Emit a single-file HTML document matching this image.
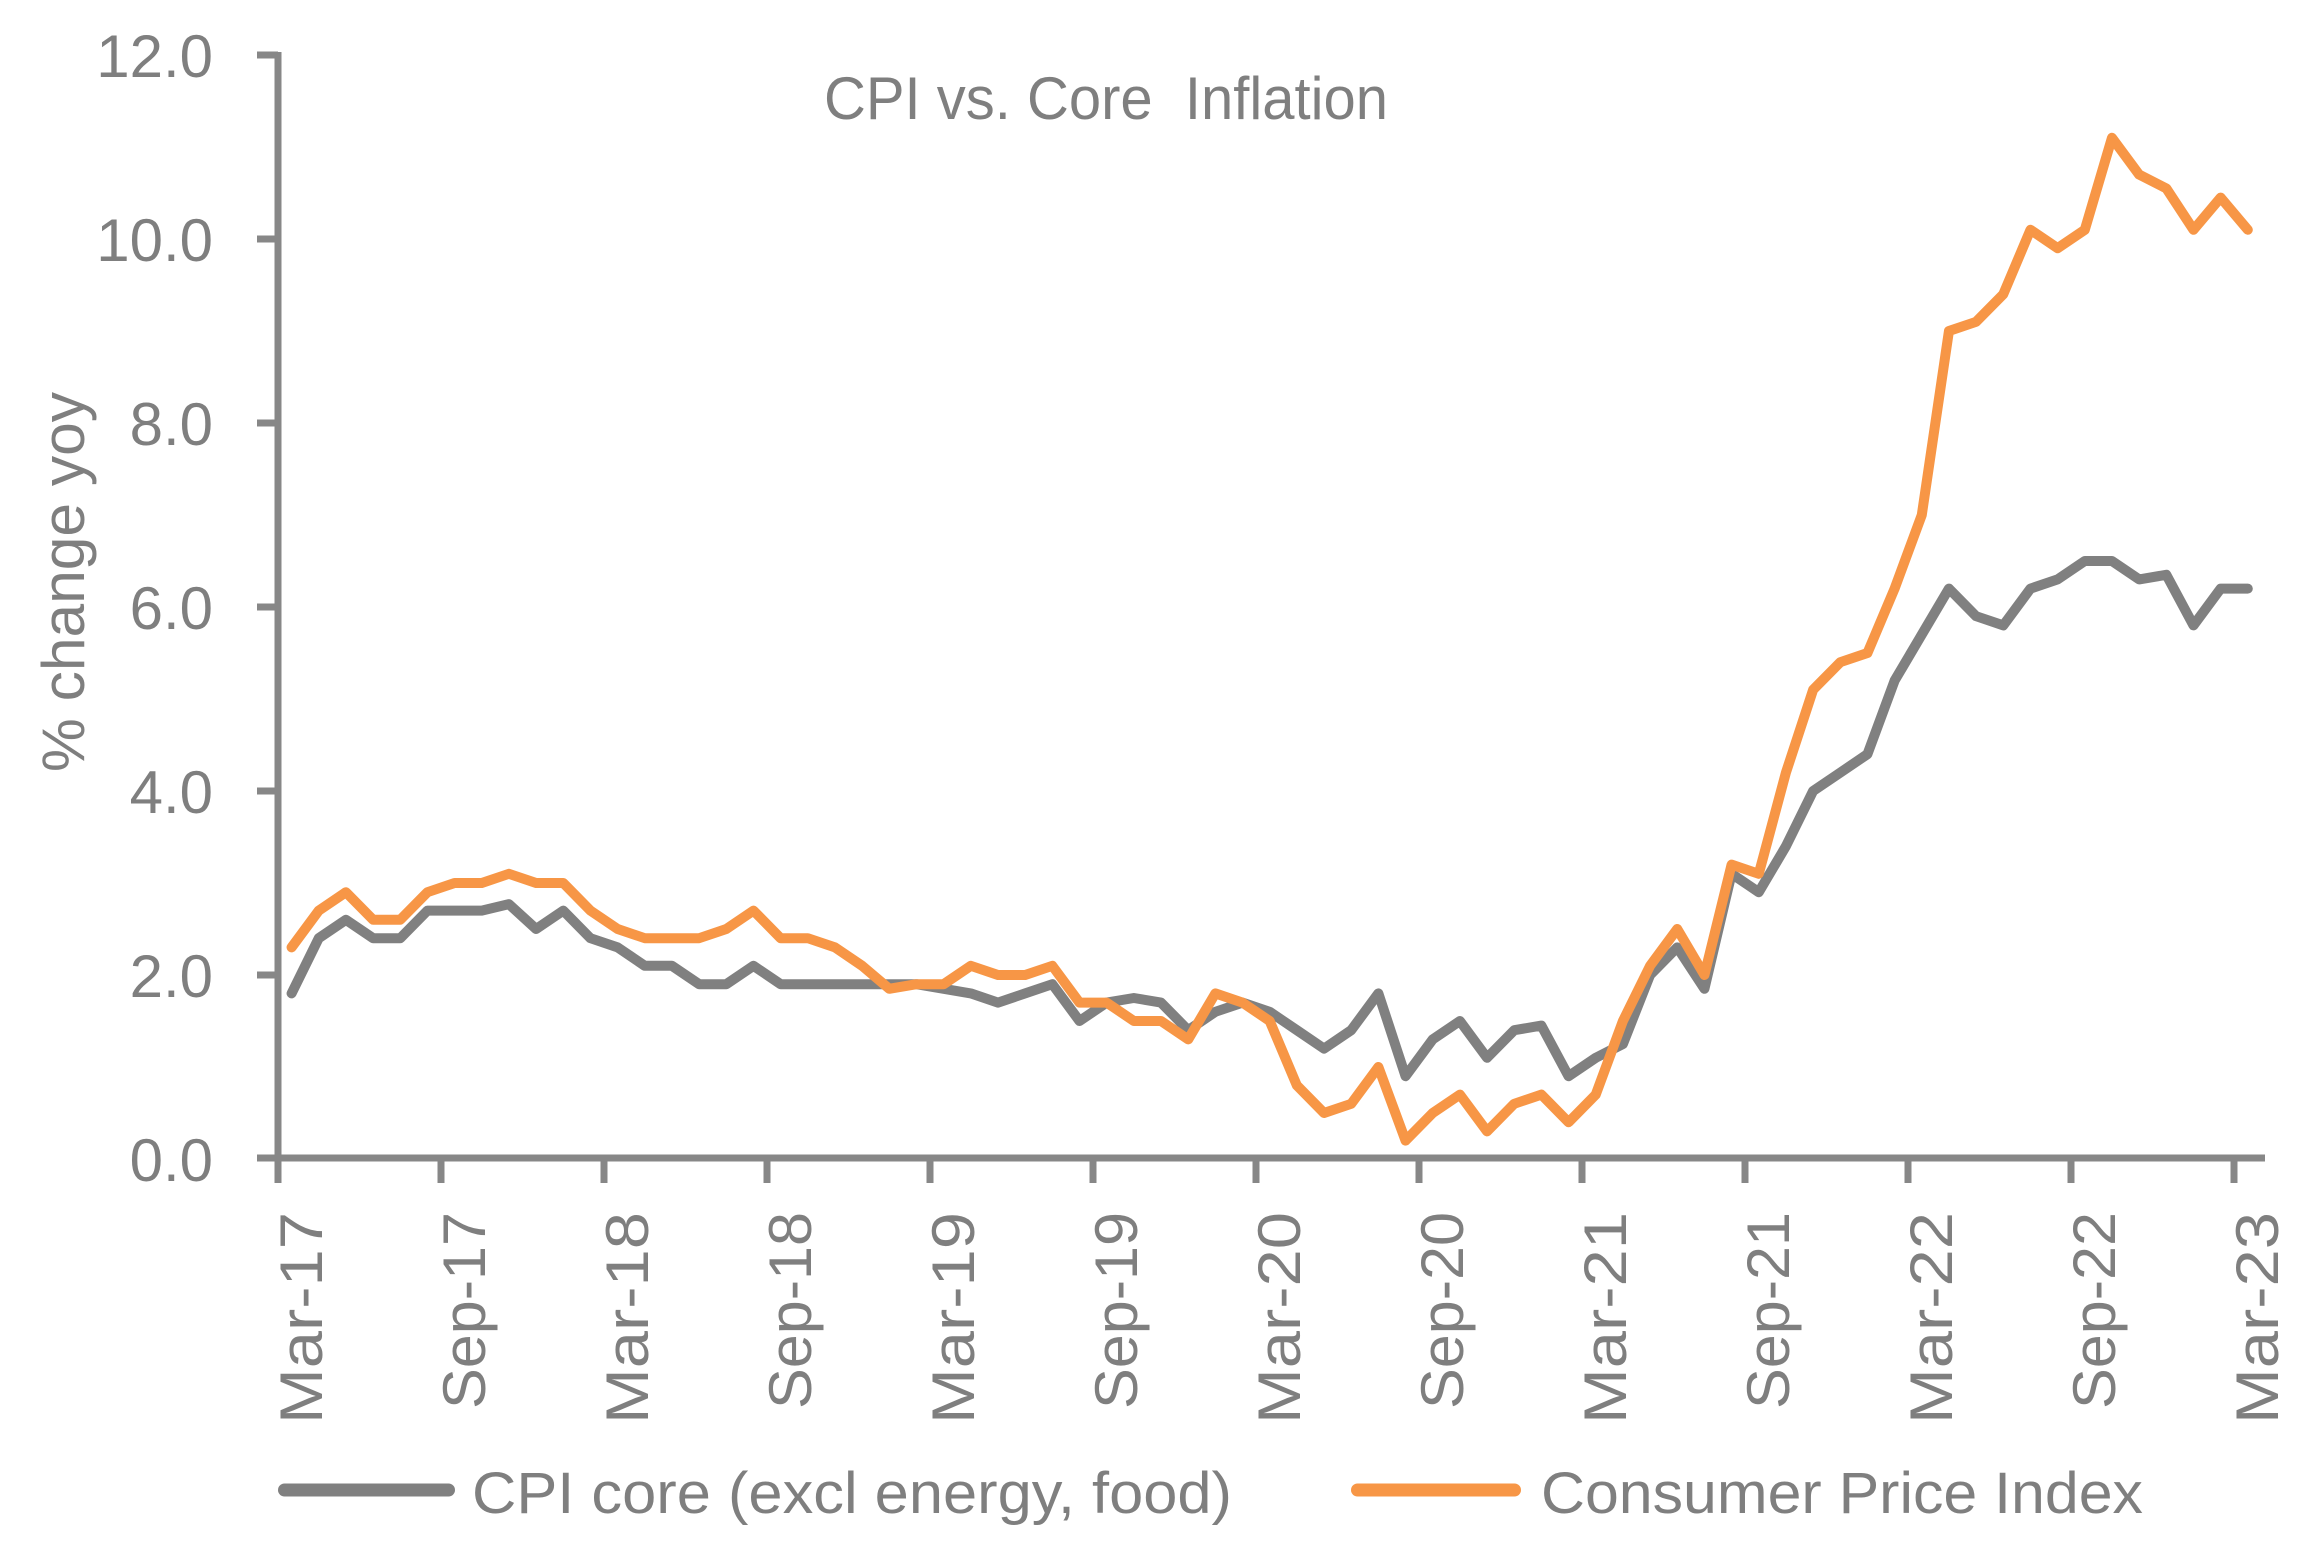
<!DOCTYPE html>
<html>
<head>
<meta charset="utf-8">
<style>
  html, body { margin: 0; padding: 0; background: #ffffff; }
  svg { display: block; }
  text { font-family: "Liberation Sans", "DejaVu Sans", sans-serif; fill: #7f7f7f; }
</style>
</head>
<body>
<svg width="2306" height="1563" viewBox="0 0 2306 1563" xmlns="http://www.w3.org/2000/svg">
  <rect x="0" y="0" width="2306" height="1563" fill="#ffffff"/>

  <!-- Title -->
  <text x="824" y="119" font-size="60" textLength="564" lengthAdjust="spacingAndGlyphs" xml:space="preserve">CPI vs. Core  Inflation</text>

  <!-- Y axis title -->
  <text transform="translate(84,582) rotate(-90)" text-anchor="middle" font-size="60" textLength="380" lengthAdjust="spacingAndGlyphs">% change yoy</text>

  <!-- Y tick labels -->
  <g font-size="60" text-anchor="end">
    <text x="213" y="77">12.0</text>
    <text x="213" y="261">10.0</text>
    <text x="213" y="445">8.0</text>
    <text x="213" y="629">6.0</text>
    <text x="213" y="813">4.0</text>
    <text x="213" y="997">2.0</text>
    <text x="213" y="1181">0.0</text>
  </g>

  <!-- Axes -->
  <g stroke="#878787" stroke-width="7" fill="none">
    <line x1="278" y1="52" x2="278" y2="1161"/>
    <line x1="257" y1="1158" x2="2265" y2="1158"/>
    <!-- y ticks -->
    <line x1="257" y1="55" x2="278" y2="55"/>
    <line x1="257" y1="239" x2="278" y2="239"/>
    <line x1="257" y1="423" x2="278" y2="423"/>
    <line x1="257" y1="607" x2="278" y2="607"/>
    <line x1="257" y1="791" x2="278" y2="791"/>
    <line x1="257" y1="975" x2="278" y2="975"/>
    <!-- x ticks -->
    <line x1="278" y1="1158" x2="278" y2="1183"/>
    <line x1="441" y1="1158" x2="441" y2="1183"/>
    <line x1="604" y1="1158" x2="604" y2="1183"/>
    <line x1="767" y1="1158" x2="767" y2="1183"/>
    <line x1="930" y1="1158" x2="930" y2="1183"/>
    <line x1="1093" y1="1158" x2="1093" y2="1183"/>
    <line x1="1256" y1="1158" x2="1256" y2="1183"/>
    <line x1="1419" y1="1158" x2="1419" y2="1183"/>
    <line x1="1582" y1="1158" x2="1582" y2="1183"/>
    <line x1="1745" y1="1158" x2="1745" y2="1183"/>
    <line x1="1908" y1="1158" x2="1908" y2="1183"/>
    <line x1="2071" y1="1158" x2="2071" y2="1183"/>
    <line x1="2234" y1="1158" x2="2234" y2="1183"/>
  </g>

  <!-- X tick labels -->
  <g font-size="60" text-anchor="end">
    <text transform="translate(322,1212) rotate(-90)" textLength="212" lengthAdjust="spacingAndGlyphs">Mar-17</text>
    <text transform="translate(485,1212) rotate(-90)" textLength="197" lengthAdjust="spacingAndGlyphs">Sep-17</text>
    <text transform="translate(648,1212) rotate(-90)" textLength="212" lengthAdjust="spacingAndGlyphs">Mar-18</text>
    <text transform="translate(811,1212) rotate(-90)" textLength="197" lengthAdjust="spacingAndGlyphs">Sep-18</text>
    <text transform="translate(974,1212) rotate(-90)" textLength="212" lengthAdjust="spacingAndGlyphs">Mar-19</text>
    <text transform="translate(1137,1212) rotate(-90)" textLength="197" lengthAdjust="spacingAndGlyphs">Sep-19</text>
    <text transform="translate(1300,1212) rotate(-90)" textLength="212" lengthAdjust="spacingAndGlyphs">Mar-20</text>
    <text transform="translate(1463,1212) rotate(-90)" textLength="197" lengthAdjust="spacingAndGlyphs">Sep-20</text>
    <text transform="translate(1626,1212) rotate(-90)" textLength="212" lengthAdjust="spacingAndGlyphs">Mar-21</text>
    <text transform="translate(1789,1212) rotate(-90)" textLength="197" lengthAdjust="spacingAndGlyphs">Sep-21</text>
    <text transform="translate(1952,1212) rotate(-90)" textLength="212" lengthAdjust="spacingAndGlyphs">Mar-22</text>
    <text transform="translate(2115,1212) rotate(-90)" textLength="197" lengthAdjust="spacingAndGlyphs">Sep-22</text>
    <text transform="translate(2278,1212) rotate(-90)" textLength="212" lengthAdjust="spacingAndGlyphs">Mar-23</text>
  </g>

  <!-- Series -->
  <g transform="translate(291.58,1159) scale(27.17,-92)" fill="none" stroke-linejoin="round" stroke-linecap="round">
    <polyline vector-effect="non-scaling-stroke" stroke="#808080" stroke-width="10" points="
      0,1.8 1,2.4 2,2.6 3,2.4 4,2.4 5,2.7 6,2.7 7,2.7 8,2.77 9,2.5
      10,2.7 11,2.4 12,2.3 13,2.1 14,2.1 15,1.9 16,1.9 17,2.1 18,1.9 19,1.9 20,1.9 21,1.9
      22,1.9 23,1.9 24,1.85 25,1.8 26,1.7 27,1.8 28,1.9 29,1.5 30,1.7 31,1.75 32,1.7 33,1.4
      34,1.6 35,1.7 36,1.6 37,1.4 38,1.2 39,1.4 40,1.8 41,0.9 42,1.3 43,1.5 44,1.1 45,1.4
      46,1.45 47,0.9 48,1.1 49,1.25 50,2.0 51,2.3 52,1.85 53,3.1 54,2.9 55,3.4 56,4.0 57,4.2
      58,4.4 59,5.2 60,5.7 61,6.2 62,5.9 63,5.8 64,6.2 65,6.3 66,6.5 67,6.5 68,6.3 69,6.35
      70,5.8 71,6.2 72,6.2"/>
    <polyline vector-effect="non-scaling-stroke" stroke="#f79646" stroke-width="10" points="
      0,2.3 1,2.7 2,2.9 3,2.6 4,2.6 5,2.9 6,3.0 7,3.0 8,3.1 9,3.0
      10,3.0 11,2.7 12,2.5 13,2.4 14,2.4 15,2.4 16,2.5 17,2.7 18,2.4 19,2.4 20,2.3 21,2.1
      22,1.85 23,1.9 24,1.9 25,2.1 26,2.0 27,2.0 28,2.1 29,1.7 30,1.7 31,1.5 32,1.5 33,1.3
      34,1.8 35,1.7 36,1.5 37,0.8 38,0.5 39,0.6 40,1.0 41,0.2 42,0.5 43,0.7 44,0.3 45,0.6
      46,0.7 47,0.4 48,0.7 49,1.5 50,2.1 51,2.5 52,2.0 53,3.2 54,3.1 55,4.2 56,5.1 57,5.4
      58,5.5 59,6.2 60,7.0 61,9.0 62,9.1 63,9.4 64,10.1 65,9.9 66,10.1 67,11.1 68,10.7 69,10.55
      70,10.1 71,10.45 72,10.1"/>
  </g>

  <!-- Legend -->
  <line x1="284.5" y1="1490" x2="448.5" y2="1490" stroke="#808080" stroke-width="13" stroke-linecap="round"/>
  <text x="472" y="1513" font-size="58" textLength="760" lengthAdjust="spacingAndGlyphs">CPI core (excl energy, food)</text>
  <line x1="1357.5" y1="1490" x2="1514.5" y2="1490" stroke="#f79646" stroke-width="13" stroke-linecap="round"/>
  <text x="1541" y="1513" font-size="58" textLength="602" lengthAdjust="spacingAndGlyphs">Consumer Price Index</text>
</svg>
</body>
</html>
